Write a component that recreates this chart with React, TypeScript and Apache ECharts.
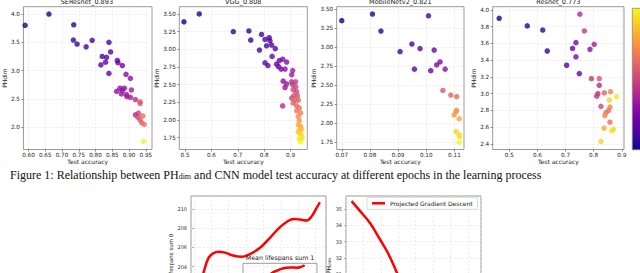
import React, { useEffect, useRef } from 'react';
import * as echarts from 'echarts';

// plasma colormap stops
const PLASMA = ['#0d0887', '#41049d', '#6a00a8', '#8f0da4', '#b12a90', '#cc4778', '#e16462', '#f2844b', '#fca636', '#fcce25', '#f0f921'];

// [test accuracy, PHdim, epoch progress 0..1]
const seresnet = [
  [0.59, 3.8, 0.0], [0.661, 4.0, 0.02], [0.735, 3.81, 0.05], [0.734, 3.54, 0.08], [0.745, 3.47, 0.08],
  [0.772, 3.42, 0.1], [0.79, 3.535, 0.1], [0.84, 3.5, 0.12], [0.845, 3.33, 0.15], [0.82, 3.25, 0.13],
  [0.833, 3.235, 0.15], [0.83, 3.15, 0.17], [0.816, 3.1, 0.15], [0.865, 3.18, 0.2], [0.867, 3.14, 0.2],
  [0.88, 3.09, 0.22], [0.84, 2.95, 0.18], [0.891, 2.935, 0.28], [0.904, 2.865, 0.3], [0.873, 2.69, 0.3],
  [0.886, 2.69, 0.3], [0.88, 2.65, 0.3], [0.863, 2.635, 0.3], [0.877, 2.59, 0.32], [0.892, 2.58, 0.33],
  [0.894, 2.54, 0.33], [0.904, 2.53, 0.35], [0.907, 2.66, 0.35], [0.919, 2.49, 0.4], [0.933, 2.42, 0.6],
  [0.933, 2.45, 0.55], [0.928, 2.25, 0.5], [0.919, 2.22, 0.4], [0.926, 2.18, 0.5], [0.933, 2.13, 0.55],
  [0.941, 2.2, 0.62], [0.938, 2.08, 0.6], [0.945, 2.05, 0.65], [0.943, 1.75, 1.0],
];
const vgg = [
  [0.496, 3.39, 0.0], [0.554, 3.5, 0.02], [0.683, 3.25, 0.05], [0.742, 3.26, 0.06], [0.749, 3.13, 0.08],
  [0.79, 3.21, 0.1], [0.782, 2.99, 0.1], [0.803, 3.14, 0.12], [0.819, 3.165, 0.12], [0.822, 3.12, 0.13],
  [0.809, 3.05, 0.12], [0.828, 3.06, 0.14], [0.842, 3.01, 0.15], [0.83, 2.9, 0.2], [0.803, 2.81, 0.15],
  [0.814, 2.77, 0.16], [0.847, 2.79, 0.2], [0.857, 2.84, 0.22], [0.87, 2.86, 0.25], [0.885, 2.82, 0.28],
  [0.854, 2.755, 0.22], [0.864, 2.72, 0.25], [0.879, 2.72, 0.3], [0.908, 2.7, 0.35], [0.904, 2.64, 0.35],
  [0.872, 2.55, 0.3], [0.885, 2.51, 0.32], [0.879, 2.46, 0.32], [0.87, 2.2, 0.4], [0.904, 2.54, 0.4],
  [0.919, 2.54, 0.45], [0.908, 2.5, 0.45], [0.92, 2.47, 0.5], [0.91, 2.43, 0.5], [0.923, 2.4, 0.5],
  [0.913, 2.35, 0.55], [0.926, 2.34, 0.55], [0.904, 2.31, 0.5], [0.917, 2.28, 0.58], [0.929, 2.28, 0.6],
  [0.91, 2.24, 0.6], [0.923, 2.2, 0.62], [0.933, 2.17, 0.65], [0.923, 2.13, 0.65], [0.938, 2.1, 0.68],
  [0.929, 2.05, 0.7], [0.933, 1.99, 0.75], [0.929, 1.93, 0.8], [0.938, 1.91, 0.8], [0.933, 1.86, 0.85],
  [0.942, 1.87, 0.85], [0.929, 1.83, 0.88], [0.938, 1.8, 0.9], [0.942, 1.76, 0.92], [0.933, 1.73, 0.95],
  [0.938, 1.69, 1.0], [0.944, 1.74, 0.97],
];
const mobilenet = [
  [0.07, 3.347, 0.0], [0.0809, 3.434, 0.03], [0.0839, 3.21, 0.05], [0.0949, 3.04, 0.1], [0.1008, 3.41, 0.12],
  [0.0907, 2.94, 0.1], [0.0978, 2.98, 0.15], [0.1028, 2.96, 0.2], [0.0958, 2.71, 0.15], [0.1016, 2.69, 0.2],
  [0.1037, 2.765, 0.25], [0.1049, 2.805, 0.25], [0.1067, 2.71, 0.3], [0.1059, 2.43, 0.55], [0.1087, 2.37, 0.6],
  [0.1108, 2.35, 0.62], [0.1108, 2.17, 0.75], [0.1106, 2.155, 0.75], [0.1099, 2.11, 0.75], [0.1117, 2.06, 0.8],
  [0.1106, 1.89, 0.9], [0.1117, 1.85, 0.92], [0.1118, 1.82, 0.95], [0.1117, 1.75, 1.0],
];
const resnet = [
  [0.464, 3.9, 0.0], [0.564, 3.81, 0.03], [0.619, 3.76, 0.05], [0.635, 3.51, 0.08], [0.751, 3.95, 0.4],
  [0.767, 3.75, 0.45], [0.737, 3.61, 0.25], [0.725, 3.54, 0.2], [0.737, 3.44, 0.25], [0.802, 3.59, 0.35],
  [0.787, 3.53, 0.3], [0.704, 3.34, 0.15], [0.749, 3.24, 0.2], [0.792, 3.18, 0.45], [0.82, 3.18, 0.55],
  [0.82, 3.1, 0.4], [0.815, 3.0, 0.4], [0.811, 2.97, 0.45], [0.838, 3.01, 0.6], [0.86, 3.025, 0.7],
  [0.882, 2.965, 0.95], [0.856, 2.925, 0.9], [0.826, 2.85, 0.5], [0.858, 2.84, 0.7], [0.853, 2.8, 0.65],
  [0.844, 2.775, 0.65], [0.84, 2.74, 0.7], [0.858, 2.66, 0.65], [0.837, 2.59, 0.8], [0.87, 2.575, 0.9],
  [0.864, 2.555, 0.95], [0.826, 2.43, 0.9],
];

// bottom row curves
const lifespans0 = [
  [0.18, 201.2], [0.54, 203.3], [0.84, 204.9], [1.13, 205.4], [1.4, 205.55], [1.79, 205.45], [2.25, 205.15],
  [2.75, 205.02], [3.22, 205.3], [3.8, 205.95], [4.37, 207.0], [4.95, 208.1], [5.41, 208.75], [5.75, 208.95],
  [6.09, 208.9], [6.48, 208.8], [6.79, 209.3], [7.02, 210.0], [7.24, 210.7],
];
const lifespans1 = [
  [2.6, 0.59], [3.11, 0.6165], [3.88, 0.65], [4.46, 0.6615], [5.45, 0.675], [6.35, 0.679], [7.26, 0.678], [7.77, 0.6815],
  [8.15, 0.6865], [8.31, 0.6915],
];
const pgd = [
  [0.32, 35.5], [0.8, 34.9], [1.38, 34.15], [1.95, 33.15], [2.41, 32.3], [2.82, 31.35], [3.22, 30.3], [3.68, 29.0],
  [4.2, 27.8],
];

const titles = ['SEResnet_0.893', 'VGG_0.808', 'MobileNetv2_0.821', 'Resnet_0.773'];
const xTicks = [
  [0.6, 0.65, 0.7, 0.75, 0.8, 0.85, 0.9, 0.95],
  [0.5, 0.6, 0.7, 0.8, 0.9],
  [0.07, 0.08, 0.09, 0.1, 0.11],
  [0.5, 0.6, 0.7, 0.8, 0.9],
];
const yTicks = [
  [2.0, 2.5, 3.0, 3.5, 4.0],
  [1.75, 2.0, 2.25, 2.5, 2.75, 3.0, 3.25, 3.5],
  [1.75, 2.0, 2.25, 2.5, 2.75, 3.0, 3.25, 3.5],
  [2.4, 2.6, 2.8, 3.0, 3.2, 3.4, 3.6, 3.8, 4.0],
];
const xDecimals = [2, 1, 2, 1];
const yDecimals = [1, 2, 2, 1];
const lifeTicksX = [0, 1, 2, 3, 4, 5, 6, 7];
const lifeTicksY = [200, 202, 204, 206, 208, 210];
const pgdTicksY = [28, 29, 30, 31, 32, 33, 34, 35];

const FONT = 'DejaVu Sans';

// layout of top panels
const panels = [
  { left: 21.7, width: 130.3, xMin: 0.585, xMax: 0.9685, yMin: 1.608, yMax: 4.129, gap: 14.7 },
  { left: 179.3, width: 128, xMin: 0.4784, xMax: 0.9633, yMin: 1.583, yMax: 3.603, gap: 19 },
  { left: 336.7, width: 127.3, xMin: 0.0682, xMax: 0.1134, yMin: 1.655, yMax: 3.53, gap: 18 },
  { left: 492.7, width: 131.3, xMin: 0.441, xMax: 0.908, yMin: 2.334, yMax: 4.039, gap: 14.7 },
];
const TOP = 6.7;
const HEIGHT = 142.8;

const splitLine = { show: true, lineStyle: { color: '#e4e4e4', type: [2, 2] as any, width: 0.7 } };

function axis(gridIndex: number, min: number, max: number, ticks: number[], dec: number, extra: any = {}) {
  return {
    type: 'value', gridIndex, min, max,
    axisLine: { show: false },
    axisTick: { show: true, length: 2, customValues: ticks, lineStyle: { color: '#555', width: 0.7 } },
    axisLabel: {
      customValues: ticks, fontSize: 5.7, color: '#222', fontFamily: FONT, margin: 2,
      formatter: (v: number) => Number(v).toFixed(dec),
    },
    splitLine,
    ...extra,
  };
}

export default function App() {
  const ref = useRef<HTMLDivElement>(null);
  useEffect(() => {
    if (!ref.current) return;
    const chart = echarts.init(ref.current, undefined, { renderer: 'svg' });
    const grids: any[] = [];
    const xAxes: any[] = [];
    const yAxes: any[] = [];
    const series: any[] = [];
    const titleList: any[] = [];
    const sets = [seresnet, vgg, mobilenet, resnet];

    panels.forEach((p, i) => {
      grids.push({ left: p.left, top: TOP, width: p.width, height: HEIGHT, show: true, borderColor: '#9a9a9a', borderWidth: 1 });
      xAxes.push(axis(i, p.xMin, p.xMax, xTicks[i], xDecimals[i], {
        name: 'Test accuracy', nameLocation: 'middle', nameGap: 9,
        nameTextStyle: { fontSize: 6, color: '#222', fontFamily: FONT },
      }));
      yAxes.push(axis(i, p.yMin, p.yMax, yTicks[i], yDecimals[i], {
        name: 'PHdim', nameLocation: 'middle', nameGap: p.gap,
        nameTextStyle: { fontSize: 6, color: '#222', fontFamily: FONT },
        axisLabel: {
          customValues: yTicks[i], fontSize: 5.7, color: '#222', fontFamily: FONT, margin: 3.5,
          formatter: (v: number) => Number(v).toFixed(yDecimals[i]),
        },
      }));
      series.push({
        type: 'scatter', xAxisIndex: i, yAxisIndex: i, data: sets[i], symbolSize: 5.5, clip: false,
      });
      titleList.push({
        text: titles[i], left: p.left + p.width / 2, top: -1.5, textAlign: 'center', padding: 0,
        textStyle: { fontSize: 6.5, fontWeight: 'normal', color: '#222', fontFamily: FONT },
      });
    });

    // bottom-left: lifespans sum 0
    grids.push({ left: 191, top: 196, width: 135, height: 120, show: true, borderColor: '#9a9a9a', borderWidth: 1 });
    xAxes.push({
      type: 'value', gridIndex: 4, min: -0.167, max: 7.592,
      axisLine: { show: false }, axisTick: { show: false, customValues: lifeTicksX },
      axisLabel: { show: false, customValues: lifeTicksX }, splitLine,
    });
    yAxes.push({
      type: 'value', gridIndex: 4, min: 198.85, max: 211.35,
      axisLine: { show: false },
      axisTick: { show: true, length: 1.5, customValues: lifeTicksY, lineStyle: { color: '#555', width: 0.6 } },
      axisLabel: { customValues: lifeTicksY, fontSize: 5, color: '#333', fontFamily: FONT, margin: 4 },
      splitLine,
      name: 'Lifespans sum 0', nameLocation: 'middle', nameGap: 13,
      nameTextStyle: { fontSize: 5.5, color: '#222', fontFamily: FONT },
    });
    series.push({
      type: 'line', xAxisIndex: 4, yAxisIndex: 4, data: lifespans0, smooth: 0.4, symbol: 'none',
      lineStyle: { color: '#ff0000', width: 2.5 },
    });

    // inset: mean lifespans sum 1
    grids.push({ left: 243, top: 263.3, width: 74, height: 60, show: true, borderColor: '#9a9a9a', borderWidth: 1, backgroundColor: '#fff' });
    xAxes.push({ type: 'value', gridIndex: 5, min: 0, max: 10, axisLine: { show: false }, axisTick: { show: false }, axisLabel: { show: false }, splitLine: { show: false } });
    yAxes.push({ type: 'value', gridIndex: 5, min: 0.4, max: 0.7, axisLine: { show: false }, axisTick: { show: false }, axisLabel: { show: false }, splitLine: { show: false } });
    series.push({
      type: 'line', xAxisIndex: 5, yAxisIndex: 5, data: lifespans1, smooth: 0.4, symbol: 'none',
      lineStyle: { color: '#ff0000', width: 2.5 },
    });
    titleList.push({
      text: 'Mean lifespans sum 1', left: 280, top: 254.5, textAlign: 'center', padding: 0,
      textStyle: { fontSize: 6.3, fontWeight: 'normal', color: '#222', fontFamily: FONT },
    });

    // bottom-right: PHdim vs iterations (PGD)
    grids.push({ left: 346, top: 196, width: 135, height: 140, show: true, borderColor: '#9a9a9a', borderWidth: 1 });
    xAxes.push({
      type: 'value', gridIndex: 6, min: 0, max: 7.76, interval: 1,
      axisLine: { show: false }, axisTick: { show: false }, axisLabel: { show: false }, splitLine,
    });
    yAxes.push({
      type: 'value', gridIndex: 6, min: 27.18, max: 35.82,
      axisLine: { show: false },
      axisTick: { show: true, length: 1.5, customValues: pgdTicksY, lineStyle: { color: '#555', width: 0.6 } },
      axisLabel: { customValues: pgdTicksY, fontSize: 5, color: '#333', fontFamily: FONT, margin: 4 },
      splitLine,
      name: '{a|PH}{b|dim}', nameLocation: 'middle', nameGap: 11.5,
      nameTextStyle: {
        color: '#222', fontFamily: FONT,
        rich: { a: { fontSize: 6, fontFamily: FONT, color: '#222' }, b: { fontSize: 4.2, fontFamily: FONT, color: '#222', verticalAlign: 'bottom' } },
      },
    });
    series.push({
      name: 'Projected Gradient Descent',
      type: 'line', xAxisIndex: 6, yAxisIndex: 6, data: pgd, smooth: 0.4, symbol: 'none',
      lineStyle: { color: '#ff0000', width: 2.5 }, itemStyle: { color: '#ff0000' },
    });

    const plasmaStops = PLASMA.slice().reverse().map((c, k) => ({ offset: k / (PLASMA.length - 1), color: c }));

    chart.setOption({
      animation: false,
      backgroundColor: '#ffffff',
      title: titleList,
      grid: grids,
      xAxis: xAxes,
      yAxis: yAxes,
      visualMap: {
        show: false, type: 'continuous', seriesIndex: [0, 1, 2, 3], dimension: 2, min: 0, max: 1,
        inRange: { color: PLASMA },
      },
      legend: {
        data: ['Projected Gradient Descent'], left: 367, top: 197.3, padding: [3, 5, 3, 5],
        itemWidth: 13, itemHeight: 2.5, icon: 'rect',
        textStyle: { fontSize: 6, color: '#222', fontFamily: FONT },
        borderColor: '#cfcfcf', borderWidth: 0.8, borderRadius: 2, backgroundColor: '#ffffff',
      },
      graphic: [
        {
          type: 'rect', shape: { x: 632.3, y: 8.3, width: 12, height: 141.5 },
          style: { fill: new echarts.graphic.LinearGradient(0, 0, 0, 1, plasmaStops), stroke: '#888', lineWidth: 0.8 },
        },
        {
          type: 'text', x: 10, y: 168.5,
          style: {
            text: '{r|Figure 1: Relationship between PH}{s|dim}{r| and CNN model test accuracy at different epochs in the learning process}',
            rich: {
              r: { fontSize: 12, fontFamily: 'Liberation Serif', fill: '#111' } as any,
              s: { fontSize: 8, fontFamily: 'Liberation Serif', fill: '#111', verticalAlign: 'bottom' } as any,
            },
          },
        },
      ],
      series,
    } as any);
    return () => chart.dispose();
  }, []);
  return (
    <div style={{ position: 'absolute', left: 0, top: 0, width: 640, height: 273, overflow: 'hidden' }}>
      <div ref={ref} style={{ width: 640, height: 360 }} />
    </div>
  );
}
